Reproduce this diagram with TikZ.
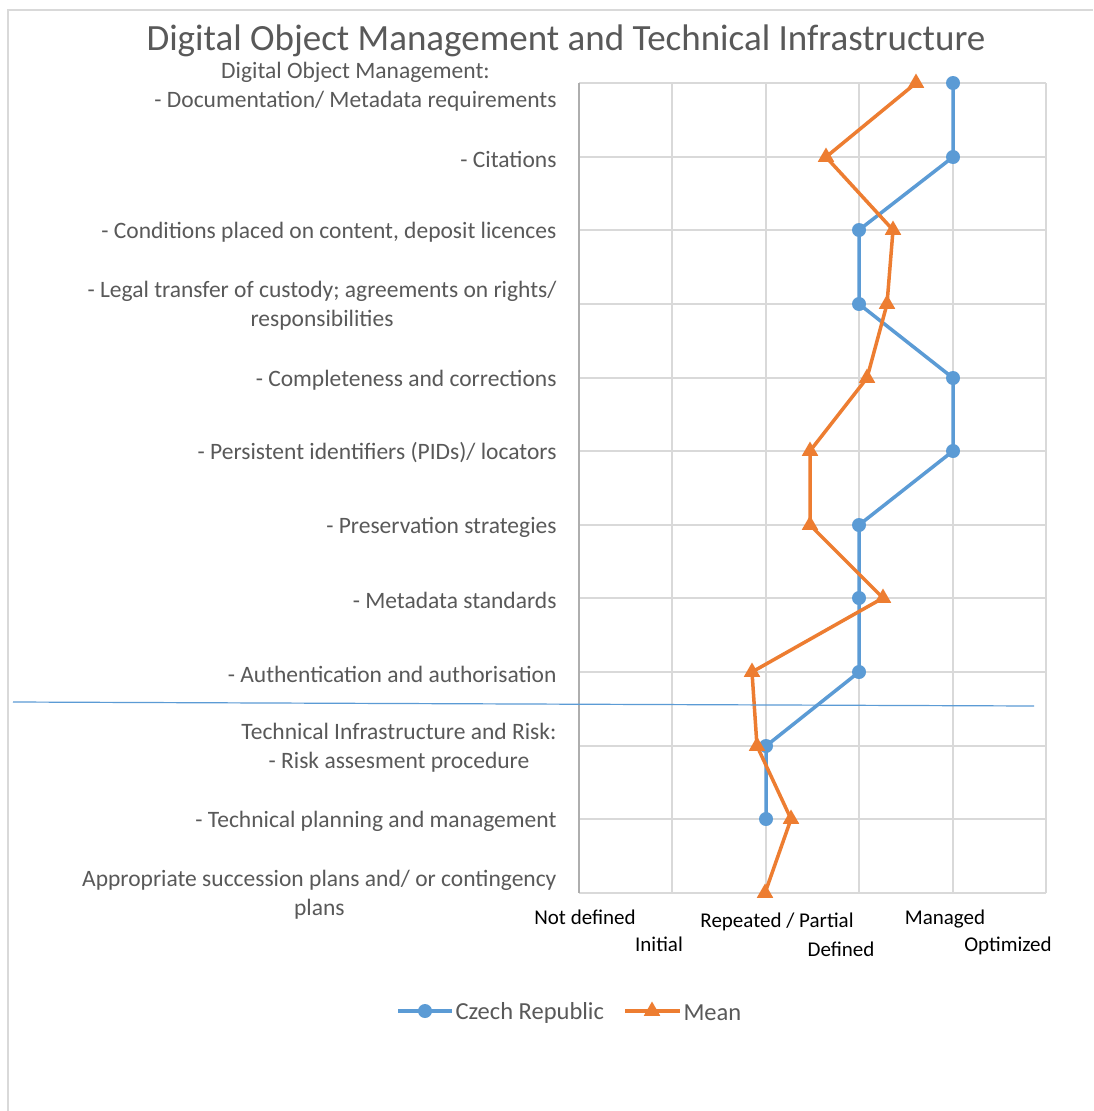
\documentclass[tikz,border=0pt]{standalone}
\usepackage{fontspec}
\setmainfont{Carlito}
\usetikzlibrary{shapes.geometric}
\definecolor{czblue}{HTML}{5B9BD5}
\definecolor{meanorange}{HTML}{ED7D31}
\definecolor{labelgray}{HTML}{595959}
\definecolor{gridgray}{HTML}{D9D9D9}
\tikzstyle{gridline} = [draw=gridgray, line width=1.5pt]
\tikzstyle{czline} = [draw=czblue, line width=3.5pt, line join=round]
\tikzstyle{meanline} = [draw=meanorange, line width=3.5pt, line join=round]
\tikzstyle{czdot} = [circle, fill=czblue, minimum size=14pt, inner sep=0pt]
\tikzstyle{meantri} = [regular polygon, regular polygon sides=3, fill=meanorange, minimum size=19pt, inner sep=0pt]
\tikzstyle{category} = [anchor=east, align=center, text=labelgray, font=\fontsize{23.5}{29}\selectfont]
\tikzstyle{levelname} = [text=black, font=\fontsize{21}{24}\selectfont]
\tikzstyle{legendtext} = [anchor=west, text=labelgray, font=\fontsize{24.5}{28}\selectfont]

\begin{document}
\begin{tikzpicture}[x=1pt, y=-1pt]
            \useasboundingbox (0,0) rectangle (1093,1111);
            \fill[white] (0,0) rectangle (1093,1111);
            \draw[gridline] (8,1111) -- (8,10) -- (1093,10);

            % grid
            \draw[gridline] (579,83) -- (1046,83) (579,157) -- (1046,157) (579,230) -- (1046,230)
                (579,304) -- (1046,304) (579,378) -- (1046,378) (579,451) -- (1046,451)
                (579,525) -- (1046,525) (579,598) -- (1046,598) (579,672) -- (1046,672)
                (579,746) -- (1046,746) (579,819) -- (1046,819) (579,893) -- (1046,893);
            \draw[gridline] (672,83) -- (672,893) (766,83) -- (766,893) (859,83) -- (859,893)
                (953,83) -- (953,893) (1046,83) -- (1046,893);
            \draw[gridline, draw=gridgray!80!black] (579,83) -- (579,893);

            \node(title) [text=labelgray, inner sep=0pt, font=\fontsize{37}{44}\selectfont] at (566,41) {Digital Object Management and Technical Infrastructure};

            \node(cat0) [category] at (560,87) {Digital Object Management:\\- Documentation/ Metadata requirements};
            \node(cat1) [category] at (560,159) {- Citations};
            \node(cat2) [category] at (560,232) {- Conditions placed on content, deposit licences};
            \node(cat3) [category] at (560,306) {- Legal transfer of custody; agreements on rights/\\responsibilities};
            \node(cat4) [category] at (560,380) {- Completeness and corrections};
            \node(cat5) [category] at (560,453) {- Persistent identifiers (PIDs)/ locators};
            \node(cat6) [category] at (560,527) {- Preservation strategies};
            \node(cat7) [category] at (560,600) {- Metadata standards};
            \node(cat8) [category] at (560,674) {- Authentication and authorisation};
            \node(cat9) [category] at (560,748) {Technical Infrastructure and Risk:\\- Risk assesment procedure};
            \node(cat10) [category] at (560,821) {- Technical planning and management};
            \node(cat11) [category] at (560,895) {Appropriate succession plans and/ or contingency\\plans};

            \node(lev0) [levelname] at (585,917) {Not defined};
            \node(lev1) [levelname] at (659,944) {Initial};
            \node(lev2) [levelname] at (777,922) {Repeated / Partial};
            \node(lev3) [levelname] at (841,949) {Defined};
            \node(lev4) [levelname] at (945,919) {Managed};
            \node(lev5) [levelname] at (1008,946) {Optimized};

            % Czech Republic
            \coordinate (cz0) at (953,83);
            \coordinate (cz1) at (953,157);
            \coordinate (cz2) at (859,230);
            \coordinate (cz3) at (859,304);
            \coordinate (cz4) at (953,378);
            \coordinate (cz5) at (953,451);
            \coordinate (cz6) at (859,525);
            \coordinate (cz7) at (859,598);
            \coordinate (cz8) at (859,672);
            \coordinate (cz9) at (766,746);
            \coordinate (cz10) at (766,819);

            % Mean
            \coordinate (mn0) at (916,83);
            \coordinate (mn1) at (826,157);
            \coordinate (mn2) at (893,230);
            \coordinate (mn3) at (887,304);
            \coordinate (mn4) at (867,378);
            \coordinate (mn5) at (810,451);
            \coordinate (mn6) at (810,525);
            \coordinate (mn7) at (883,598);
            \coordinate (mn8) at (752,672);
            \coordinate (mn9) at (757,746);
            \coordinate (mn10) at (791,819);
            \coordinate (mn11) at (765,893);

            \draw[czline] (cz0) -- (cz1) -- (cz2) -- (cz3) -- (cz4) -- (cz5) -- (cz6) -- (cz7) -- (cz8) -- (cz9) -- (cz10);
            \node(czm0) [czdot] at (cz0) {};
            \node(czm1) [czdot] at (cz1) {};
            \node(czm2) [czdot] at (cz2) {};
            \node(czm3) [czdot] at (cz3) {};
            \node(czm4) [czdot] at (cz4) {};
            \node(czm5) [czdot] at (cz5) {};
            \node(czm6) [czdot] at (cz6) {};
            \node(czm7) [czdot] at (cz7) {};
            \node(czm8) [czdot] at (cz8) {};
            \node(czm9) [czdot] at (cz9) {};
            \node(czm10) [czdot] at (cz10) {};

            \draw[meanline] (mn0) -- (mn1) -- (mn2) -- (mn3) -- (mn4) -- (mn5) -- (mn6) -- (mn7) -- (mn8) -- (mn9) -- (mn10) -- (mn11);
            \node(mnm0) [meantri] at (mn0) {};
            \node(mnm1) [meantri] at (mn1) {};
            \node(mnm2) [meantri] at (mn2) {};
            \node(mnm3) [meantri] at (mn3) {};
            \node(mnm4) [meantri] at (mn4) {};
            \node(mnm5) [meantri] at (mn5) {};
            \node(mnm6) [meantri] at (mn6) {};
            \node(mnm7) [meantri] at (mn7) {};
            \node(mnm8) [meantri] at (mn8) {};
            \node(mnm9) [meantri] at (mn9) {};
            \node(mnm10) [meantri] at (mn10) {};
            \node(mnm11) [meantri] at (mn11) {};

            % divider between the two groups
            \coordinate (divl) at (13,702);
            \coordinate (divr) at (1034,706);
            \draw[czblue, line width=1.2pt] (divl) -- (divr);

            % legend
            \coordinate (czkl) at (398,1011);
            \coordinate (czkr) at (452,1011);
            \draw[czline] (czkl) -- (czkr);
            \node(czkey) [czdot] at (425,1011) {};
            \node(czlabel) [legendtext] at (452,1013) {Czech Republic};
            \coordinate (mnkl) at (625,1011);
            \coordinate (mnkr) at (680,1011);
            \draw[meanline] (mnkl) -- (mnkr);
            \node(mnkey) [meantri] at (652,1011) {};
            \node(mnlabel) [legendtext] at (680,1013) {Mean};
        \end{tikzpicture}
\end{document}
